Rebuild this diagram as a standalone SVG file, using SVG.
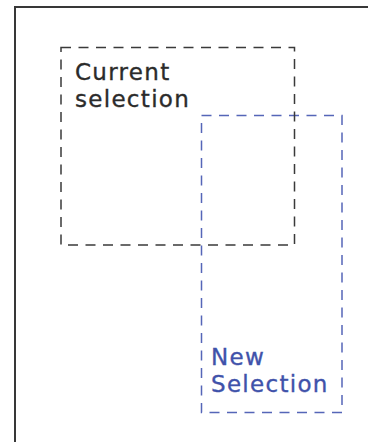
<svg xmlns="http://www.w3.org/2000/svg" width="368" height="442" viewBox="0 0 368 442">
  <style>
    .sel { fill: none; stroke-width: 1.5; stroke-dasharray: 10 7.5; }
    .label { font-family: "DejaVu Sans", Verdana, sans-serif; font-size: 23px; letter-spacing: 1.3px; stroke-width: 0.35px; }
  </style>
  <rect width="368" height="442" fill="#ffffff"/>
  <g id="frame">
    <rect x="15" y="7" width="400" height="500" fill="none" stroke="#383838" stroke-width="2"/>
  </g>
  <g id="new-selection">
    <rect class="sel" x="201.5" y="115.5" width="140.5" height="297" stroke="#5566b8"/>
    <text class="label" fill="#3f52aa" stroke="#3f52aa" x="211" y="365">New</text>
    <text class="label" fill="#3f52aa" stroke="#3f52aa" x="211" y="392">Selection</text>
  </g>
  <g id="current-selection">
    <rect class="sel" x="61" y="47.5" width="233.5" height="197.5" stroke="#3a3a3a"/>
    <text class="label" fill="#2b2b2b" stroke="#2b2b2b" x="75" y="80">Current</text>
    <text class="label" fill="#2b2b2b" stroke="#2b2b2b" x="75" y="107">selection</text>
  </g>
</svg>
